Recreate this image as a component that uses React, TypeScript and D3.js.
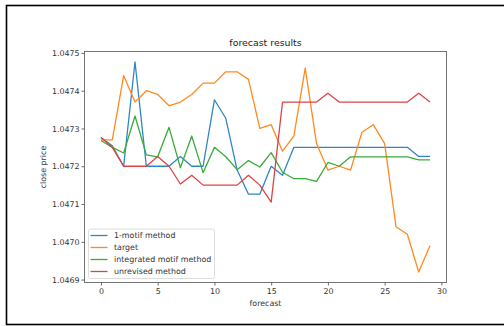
import React, { useEffect, useRef } from "react";
import * as d3 from "d3";

// forecast step index
const steps = d3.range(30);

const oneMotif = [
    1.047276, 1.047254, 1.0472, 1.047476, 1.0472, 1.0472, 1.0472, 1.047226,
    1.0472, 1.0472, 1.047376, 1.047327, 1.04719, 1.047126, 1.047126, 1.0472,
    1.047176, 1.04725, 1.04725, 1.04725, 1.04725, 1.04725, 1.04725, 1.04725,
    1.04725, 1.04725, 1.04725, 1.04725, 1.047226, 1.047226,
];
const target = [
    1.04727, 1.04727, 1.04744, 1.04737, 1.0474, 1.04739, 1.04736, 1.04737,
    1.04739, 1.04742, 1.04742, 1.04745, 1.04745, 1.04743, 1.0473, 1.04731,
    1.04724, 1.04728, 1.04746, 1.04726, 1.04719, 1.0472, 1.04719, 1.04729,
    1.04731, 1.04726, 1.04704, 1.04702, 1.04692, 1.04699,
];
const integrated = [
    1.047268, 1.04725, 1.047235, 1.047333, 1.04723, 1.047225, 1.047303,
    1.047196, 1.04728, 1.047183, 1.04725, 1.047225, 1.047191, 1.047215,
    1.047198, 1.047236, 1.047184, 1.047167, 1.047167, 1.04716, 1.04721,
    1.0472, 1.047225, 1.047225, 1.047225, 1.047225, 1.047225, 1.047225,
    1.047217, 1.047217,
];
const unrevised = [
    1.047276, 1.04725, 1.0472, 1.0472, 1.0472, 1.047226, 1.0472, 1.047153,
    1.047176, 1.04715, 1.04715, 1.04715, 1.04715, 1.047176, 1.04715, 1.047105,
    1.04737, 1.04737, 1.04737, 1.04737, 1.047393, 1.04737, 1.04737, 1.04737,
    1.04737, 1.04737, 1.04737, 1.04737, 1.047393, 1.04737,
];

const seriesNames = [
    "1-motif method",
    "target",
    "integrated motif method",
    "unrevised method",
];
const seriesColors = ["#2f86c4", "#ff8a1e", "#3aab3a", "#dd4344"];
const xTicks = [0, 5, 10, 15, 20, 25, 30];
const yTicks = [1.0469, 1.047, 1.0471, 1.0472, 1.0473, 1.0474, 1.0475];

const App = () => {
    const svgRef = useRef<SVGSVGElement>(null);

    useEffect(() => {
        const width = 504;
        const height = 326;
        const plot = { left: 84.5, right: 446.5, top: 51.5, bottom: 282.5 };
        const font = "DejaVu Sans, sans-serif";

        const svg = d3.select(svgRef.current);
        svg.selectAll("*").remove();
        svg.attr("width", width).attr("height", height);

        svg.append("rect")
            .attr("width", width)
            .attr("height", height)
            .attr("fill", "white");

        // outer frame around the picture
        svg.append("rect")
            .attr("x", 6.5)
            .attr("y", 5.5)
            .attr("width", 520)
            .attr("height", 319)
            .attr("fill", "none")
            .attr("stroke", "black")
            .attr("stroke-width", 1.6);

        const all = [oneMotif, target, integrated, unrevised];
        const yMin = d3.min(all.flat()) as number;
        const yMax = d3.max(all.flat()) as number;
        const yPad = (yMax - yMin) * 0.05;

        const xScale = d3
            .scaleLinear()
            .domain([-1.45, 30.45])
            .range([plot.left, plot.right]);
        const yScale = d3
            .scaleLinear()
            .domain([yMin - yPad, yMax + yPad])
            .range([plot.bottom, plot.top]);

        // x axis
        const xAxis = svg
            .append("g")
            .attr("transform", `translate(0,${plot.bottom})`)
            .call(
                d3
                    .axisBottom(xScale)
                    .tickValues(xTicks)
                    .tickSize(3)
                    .tickPadding(3)
                    .tickFormat(d3.format("d"))
            );

        // y axis
        const yAxis = svg
            .append("g")
            .attr("transform", `translate(${plot.left},0)`)
            .call(
                d3
                    .axisLeft(yScale)
                    .tickValues(yTicks)
                    .tickSize(3)
                    .tickPadding(2)
                    .tickFormat(d3.format(".4f"))
            );

        [xAxis, yAxis].forEach((ax) => {
            ax.select(".domain").remove();
            ax.selectAll("line").attr("stroke", "#444").attr("stroke-width", 0.8);
            ax.selectAll("text")
                .attr("fill", "#333")
                .style("font-family", font)
                .style("font-size", "7.9px");
        });

        // series lines
        const line = d3
            .line<number>()
            .x((d, i) => xScale(steps[i]))
            .y((d) => yScale(d));

        all.forEach((values, i) => {
            svg.append("path")
                .datum(values)
                .attr("d", line)
                .attr("fill", "none")
                .attr("stroke", seriesColors[i])
                .attr("stroke-width", 1.3)
                .attr("stroke-linejoin", "round");
        });

        // plot frame
        svg.append("rect")
            .attr("x", plot.left)
            .attr("y", plot.top)
            .attr("width", plot.right - plot.left)
            .attr("height", plot.bottom - plot.top)
            .attr("fill", "none")
            .attr("stroke", "#666")
            .attr("stroke-width", 0.9);

        // title and axis labels
        svg.append("text")
            .attr("x", (plot.left + plot.right) / 2)
            .attr("y", 46)
            .attr("text-anchor", "middle")
            .style("font-family", font)
            .style("font-size", "9.4px")
            .attr("fill", "#222")
            .text("forecast results");

        svg.append("text")
            .attr("x", (plot.left + plot.right) / 2)
            .attr("y", 306)
            .attr("text-anchor", "middle")
            .style("font-family", font)
            .style("font-size", "7.9px")
            .attr("fill", "#333")
            .text("forecast");

        svg.append("text")
            .attr(
                "transform",
                `translate(46,${(plot.top + plot.bottom) / 2}) rotate(-90)`
            )
            .attr("text-anchor", "middle")
            .style("font-family", font)
            .style("font-size", "7.9px")
            .attr("fill", "#333")
            .text("close price");

        // legend
        const legend = svg.append("g");
        legend
            .append("rect")
            .attr("x", 88.5)
            .attr("y", 229)
            .attr("width", 126)
            .attr("height", 49.5)
            .attr("rx", 2)
            .attr("fill", "white")
            .attr("fill-opacity", 0.8)
            .attr("stroke", "#d5d5d5")
            .attr("stroke-width", 0.8);

        seriesNames.forEach((name, i) => {
            const y = 235.5 + i * 12;
            legend
                .append("line")
                .attr("x1", 90.5)
                .attr("x2", 107.5)
                .attr("y1", y)
                .attr("y2", y)
                .attr("stroke", seriesColors[i])
                .attr("stroke-width", 1.3);
            legend
                .append("text")
                .attr("x", 114)
                .attr("y", y + 2.9)
                .style("font-family", font)
                .style("font-size", "7.9px")
                .attr("fill", "#333")
                .text(name);
        });
    }, []);

    return (
        <svg
            ref={svgRef}
            style={{ position: "absolute", left: 0, top: 0, display: "block" }}
        ></svg>
    );
};

export default App;
